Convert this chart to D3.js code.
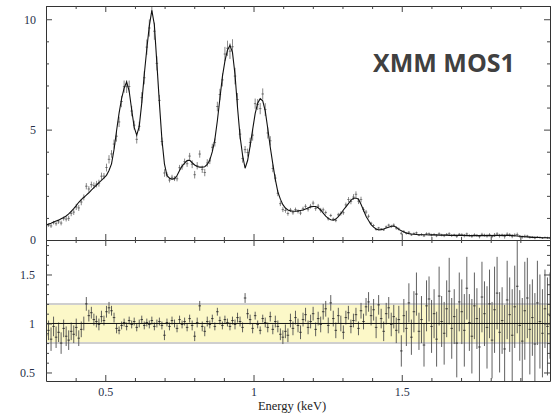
<!DOCTYPE html>
<html><head><meta charset="utf-8">
<script src="https://cdn.jsdelivr.net/npm/d3@7"></script>
<style>
body{margin:0;background:#fff;}
svg{display:block;}
.serif{font-family:"Liberation Serif","DejaVu Serif",serif;}
</style></head><body><svg id="c" width="558" height="419"></svg>
<script>
// ---- Data ----
const binStart = 0.3, binWidth = 0.0085;   // energy bins (keV)
const modelCounts = [
0.68,0.72,0.76,0.81,0.86,0.90,0.96,1.02,1.09,1.18,
1.30,1.42,1.56,1.71,1.83,1.93,2.03,2.14,2.26,2.37,
2.48,2.60,2.70,2.81,2.93,3.15,3.45,4.10,4.95,5.75,
6.40,6.88,7.16,6.75,5.90,5.10,4.75,5.15,6.20,7.50,
8.65,9.70,10.40,9.75,8.00,6.20,4.55,3.45,2.92,2.80,
2.76,2.78,2.92,3.15,3.35,3.48,3.60,3.62,3.50,3.40,
3.33,3.30,3.30,3.32,3.42,3.62,4.00,4.55,5.40,6.40,
7.40,8.10,8.60,8.82,8.50,7.50,6.00,4.70,3.85,3.25,
3.60,4.25,5.00,5.72,6.20,6.40,6.30,5.85,5.05,4.20,
3.45,2.75,2.18,1.85,1.60,1.45,1.36,1.32,1.30,1.30,
1.32,1.34,1.36,1.40,1.45,1.50,1.52,1.52,1.46,1.36,
1.22,1.08,0.98,0.92,0.90,0.95,1.06,1.20,1.36,1.50,
1.65,1.80,1.89,1.90,1.85,1.62,1.35,1.08,0.88,0.70,
0.58,0.50,0.46,0.47,0.50,0.54,0.58,0.62,0.63,0.58,
0.48,0.42,0.36,0.32,0.29,0.27,0.26,0.25,0.24,0.24,
0.24,0.24,0.23,0.23,0.23,0.23,0.22,0.22,0.22,0.22,
0.21,0.21,0.21,0.21,0.21,0.21,0.21,0.20,0.20,0.20,
0.20,0.20,0.20,0.20,0.20,0.20,0.20,0.20,0.20,0.21,
0.21,0.21,0.21,0.21,0.21,0.20,0.19,0.18,0.17,0.16,
0.15,0.14,0.13,0.12,0.12,0.11,0.11,0.10,0.10,0.10,
0.09];
const ratio = [
0.88,0.93,0.84,0.97,0.86,0.91,0.80,0.95,0.87,0.83,0.92,0.89,0.96,0.85,0.94,
1.00,1.20,1.08,1.11,1.04,1.02,0.99,1.07,1.03,1.12,1.16,1.13,1.06,
0.95,0.93,0.98,1.01,0.97,1.03,0.99,1.02,0.96,1.00,1.04,0.98,1.01,0.99,1.03,0.97,1.00,1.02,0.98,0.88,1.01,0.97,1.03,1.00,0.95,1.04,0.99,1.02,0.96,1.05,0.98,0.87,1.01,
1.18,0.97,0.92,1.02,0.99,1.05,0.97,1.12,1.03,0.98,1.04,1.01,0.97,1.03,0.99,1.06,1.02,0.96,1.26,1.10,
1.04,0.95,1.08,0.99,0.93,1.05,1.01,0.96,1.07,0.94,1.02,0.97,0.89,0.86,0.92,0.88,1.03,0.95,1.06,0.98,0.91,1.04,1.09,0.96,1.02,1.10,0.94,1.05,0.99,1.12,
1.15,0.98,1.21,1.05,0.93,1.08,1.00,0.91,1.06,1.11,0.97,1.03,1.09,0.95,1.13,1.02,1.17,1.22,1.08,1.14,0.96,1.19,1.05,0.92,1.10,1.16,0.99,1.07,0.93,1.04,
0.72,1.08,0.95,1.21,0.86,1.12,1.30,0.92,1.04,0.78,1.18,1.25,0.97,1.10,0.84,1.28,1.02,0.90,1.15,1.33,
0.95,1.07,0.80,1.22,1.12,0.93,1.36,1.01,0.87,1.18,1.05,0.76,1.27,1.10,0.96,1.20,0.83,1.14,1.31,0.91,
1.03,0.74,1.24,1.09,0.88,1.17,1.38,0.98,0.82,1.13,1.26,0.94,1.06,0.79,1.21,1.02,0.90,1.15,0.97,1.08];
const ratioErr = [
0.11,0.10,0.12,0.10,0.11,0.10,0.11,0.09,0.10,0.10,0.09,0.09,0.09,0.08,0.08,
0.07,0.07,0.06,0.06,0.06,0.06,0.06,0.06,0.05,0.06,0.06,0.05,0.05,
0.05,0.04,0.04,0.04,0.04,0.04,0.04,0.04,0.04,0.04,0.04,0.04,0.04,0.04,0.04,0.04,0.04,0.04,0.04,0.05,0.04,0.04,0.04,0.04,0.04,0.04,0.04,0.04,0.04,0.04,0.05,0.05,0.05,
0.05,0.05,0.05,0.05,0.04,0.04,0.04,0.04,0.04,0.04,0.04,0.04,0.04,0.04,0.05,0.05,0.05,0.05,0.05,0.05,
0.05,0.05,0.04,0.04,0.04,0.04,0.05,0.05,0.05,0.05,0.06,0.06,0.06,0.07,0.07,0.07,0.07,0.07,0.07,0.07,0.07,0.07,0.07,0.07,0.07,0.07,0.07,0.07,0.08,0.08,
0.08,0.08,0.08,0.08,0.08,0.08,0.08,0.07,0.07,0.07,0.07,0.07,0.07,0.07,0.08,0.08,0.09,0.10,0.10,0.11,0.11,0.10,0.10,0.10,0.11,0.11,0.12,0.12,0.13,0.14,
0.16,0.17,0.18,0.20,0.18,0.21,0.22,0.19,0.24,0.22,0.26,0.23,0.27,0.25,0.28,0.30,0.26,0.32,0.29,0.34,
0.31,0.28,0.35,0.30,0.33,0.37,0.32,0.29,0.38,0.34,0.31,0.40,0.36,0.33,0.42,0.35,0.39,0.44,0.37,0.41,
0.34,0.45,0.40,0.38,0.47,0.42,0.48,0.36,0.44,0.50,0.41,0.46,0.39,0.52,0.43,0.48,0.45,0.40,0.50,0.44];

const xMajorTicks = [0.5, 1, 1.5];
const xTickLabels = ["0.5", "1", "1.5"];
const topYTicks = [0, 5, 10];
const topYLabels = ["0", "5", "10"];
const resYTicks = [0.5, 1, 1.5];
const resYLabels = ["0.5", "1", "1.5"];
const bandRange = [0.8, 1.2];
const xTitle = "Energy (keV)";
const instrument = "XMM MOS1";

// ---- Build bins ----
const n = Math.min(modelCounts.length, ratio.length, ratioErr.length);
const bins = d3.range(n).map(i => ({
  e: binStart + i * binWidth,
  m: modelCounts[i],
  r: ratio[i],
  re: ratioErr[i]
}));

// ---- Layout ----
const svg = d3.select("#c");
const L = 46, R = 550, T1 = 6, B1 = 240, T2 = 240, B2 = 381;
const x = d3.scaleLinear().domain([0.3, 2.0]).range([L, R]);
const yTop = d3.scaleLinear().domain([0, 10.6]).range([B1, T1]);
const yRes = d3.scaleLinear().domain([0.413, 1.852]).range([B2, T2]);

const defs = svg.append("defs");
defs.append("clipPath").attr("id", "clipTop").append("rect")
  .attr("x", L).attr("y", T1).attr("width", R - L).attr("height", B1 - T1);
defs.append("clipPath").attr("id", "clipRes").append("rect")
  .attr("x", L).attr("y", T2).attr("width", R - L).attr("height", B2 - T2);

const labelColor = "#27304a";

// ---- Residual panel ----
const gRes = svg.append("g").attr("clip-path", "url(#clipRes)");
gRes.append("rect")
  .attr("x", L).attr("width", R - L)
  .attr("y", yRes(bandRange[1])).attr("height", yRes(bandRange[0]) - yRes(bandRange[1]))
  .attr("fill", "#fcf8c8");
[bandRange[0], bandRange[1]].forEach(v => {
  gRes.append("line").attr("x1", L).attr("x2", R)
    .attr("y1", yRes(v)).attr("y2", yRes(v))
    .attr("stroke", "#cfcfcf").attr("stroke-width", 2);
});
gRes.selectAll("line.rv").data(bins).join("line").attr("class", "rv")
  .attr("x1", d => x(d.e)).attr("x2", d => x(d.e))
  .attr("y1", d => yRes(d.r - d.re)).attr("y2", d => yRes(d.r + d.re))
  .attr("stroke", "#505050").attr("stroke-width", 1).attr("opacity", 0.9);
gRes.selectAll("line.rh").data(bins).join("line").attr("class", "rh")
  .attr("x1", d => x(d.e - binWidth / 2)).attr("x2", d => x(d.e + binWidth / 2))
  .attr("y1", d => yRes(d.r)).attr("y2", d => yRes(d.r))
  .attr("stroke", "#222").attr("stroke-width", 0.8);
gRes.append("line").attr("x1", L).attr("x2", R)
  .attr("y1", yRes(1)).attr("y2", yRes(1))
  .attr("stroke", "#111").attr("stroke-width", 1);

// ---- Top panel ----
const gTop = svg.append("g").attr("clip-path", "url(#clipTop)");
gTop.selectAll("line.dv").data(bins).join("line").attr("class", "dv")
  .attr("x1", d => x(d.e)).attr("x2", d => x(d.e))
  .attr("y1", d => yTop(d.m * (d.r - d.re))).attr("y2", d => yTop(d.m * (d.r + d.re)))
  .attr("stroke", "#444").attr("stroke-width", 0.8).attr("opacity", 0.8);
gTop.selectAll("line.dh").data(bins).join("line").attr("class", "dh")
  .attr("x1", d => x(d.e - binWidth / 2)).attr("x2", d => x(d.e + binWidth / 2))
  .attr("y1", d => yTop(d.m * d.r)).attr("y2", d => yTop(d.m * d.r))
  .attr("stroke", "#444").attr("stroke-width", 0.8).attr("opacity", 0.8);
gTop.append("path").datum(bins)
  .attr("d", d3.line().x(d => x(d.e)).y(d => yTop(d.m)))
  .attr("fill", "none").attr("stroke", "#111").attr("stroke-width", 1.1);

// ---- Axes ----
const xMinor = d3.range(0.3, 2.0001, 0.1).map(v => +v.toFixed(2)).filter(v => !xMajorTicks.includes(v));
const topMinor = d3.range(0, 10.6, 1).filter(v => !topYTicks.includes(v));
const resMinor = d3.range(0.5, 1.85, 0.1).map(v => +v.toFixed(2)).filter(v => !resYTicks.includes(v));

function styleAxis(g) {
  g.attr("font-family", null);
  g.selectAll("path.domain").attr("stroke", "#333").attr("stroke-width", 1);
  g.selectAll(".tick line").attr("stroke", "#444").attr("stroke-width", 1);
  g.selectAll(".tick text").attr("class", "serif")
    .style("font-family", '"Liberation Serif","DejaVu Serif",serif')
    .style("font-size", "12px").attr("fill", labelColor);
}
function addAxis(make, scale, tx, ty, major, minor, labels) {
  const g = svg.append("g").attr("transform", `translate(${tx},${ty})`);
  g.call(make(scale).tickValues(major).tickSize(-6).tickSizeOuter(0)
    .tickFormat(labels ? ((d, i) => labels[i]) : () => ""));
  const gm = svg.append("g").attr("transform", `translate(${tx},${ty})`);
  gm.call(make(scale).tickValues(minor).tickSize(-3).tickSizeOuter(0).tickFormat(() => ""));
  gm.select("path.domain").remove();
  styleAxis(g); styleAxis(gm);
  if (!labels) g.selectAll(".tick text").remove();
  gm.selectAll(".tick text").remove();
  return g;
}
// top panel
addAxis(d3.axisBottom, x, 0, B1, xMajorTicks, xMinor, null);
addAxis(d3.axisTop, x, 0, T1, xMajorTicks, xMinor, null);
const tl = addAxis(d3.axisLeft, yTop, L, 0, topYTicks, topMinor, topYLabels);
tl.selectAll(".tick text").attr("x", -10);
addAxis(d3.axisRight, yTop, R, 0, topYTicks, topMinor, null);
// residual panel
addAxis(d3.axisTop, x, 0, T2, xMajorTicks, xMinor, null);
const bx = addAxis(d3.axisBottom, x, 0, B2, xMajorTicks, xMinor, xTickLabels);
bx.selectAll(".tick text").attr("y", 6);
const rl = addAxis(d3.axisLeft, yRes, L, 0, resYTicks, resMinor, resYLabels);
rl.selectAll(".tick text").attr("x", -11);
addAxis(d3.axisRight, yRes, R, 0, resYTicks, resMinor, null);

// ---- Texts ----
svg.append("text").attr("class", "serif").attr("x", 292).attr("y", 410).attr("text-anchor", "middle")
  .style("font-family", '"Liberation Serif","DejaVu Serif",serif')
  .style("font-size", "12.5px").attr("fill", "#222").text(xTitle);
svg.append("text").attr("x", 373).attr("y", 72)
  .style("font-family", '"Open Sans",sans-serif').style("font-weight", 700)
  .style("font-size", "25px").attr("fill", "#404040").text(instrument);
</script></body></html>
